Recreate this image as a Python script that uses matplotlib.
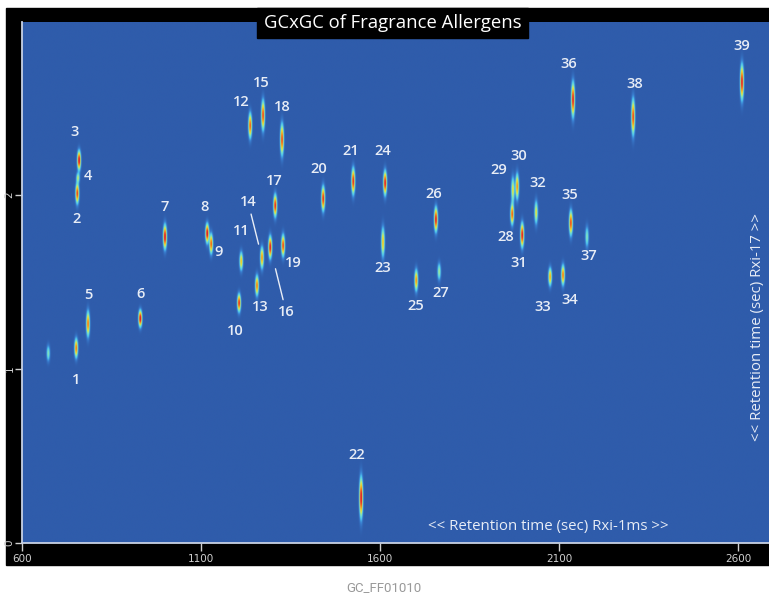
import matplotlib
matplotlib.use('Agg')
import matplotlib.pyplot as plt
import numpy as np
from matplotlib.colors import LinearSegmentedColormap
from matplotlib.patches import Rectangle

# peaks: first dimension (Rxi-1ms, sec), second dimension (Rxi-17, sec)
labels = [str(i) for i in range(1, 40)] + ['']
rt1 = [751, 754, 759, 756, 784, 930, 999, 1117, 1128, 1206,
       1212, 1237, 1256, 1270, 1273, 1293, 1307, 1326, 1329, 1441,
       1525, 1547, 1608, 1614, 1701, 1756, 1765, 1969, 1971, 1983,
       1997, 2036, 2075, 2111, 2133, 2139, 2178, 2307, 2611, 673]
rt2 = [1.12, 2.01, 2.20, 2.10, 1.26, 1.29, 1.76, 1.78, 1.72, 1.38,
       1.62, 2.40, 1.48, 1.64, 2.46, 1.70, 1.94, 2.32, 1.71, 1.98,
       2.08, 0.26, 1.73, 2.07, 1.51, 1.86, 1.56, 1.89, 2.03, 2.05,
       1.77, 1.90, 1.53, 1.54, 1.84, 2.55, 1.76, 2.45, 2.65, 1.09]
height = [0.75, 0.85, 1.0, 0.4, 0.75, 1.0, 1.0, 1.0, 0.8, 0.9,
          0.6, 0.8, 0.75, 0.7, 0.85, 0.95, 0.9, 0.85, 0.85, 0.9,
          0.9, 1.0, 0.6, 0.95, 0.7, 0.95, 0.4, 0.8, 0.5, 0.7,
          0.95, 0.5, 0.65, 0.75, 0.85, 0.95, 0.35, 0.85, 0.95, 0.35]
spread = [0.066, 0.072, 0.069, 0.029, 0.086, 0.060, 0.086, 0.069, 0.069, 0.063,
          0.060, 0.086, 0.069, 0.072, 0.103, 0.078, 0.078, 0.109, 0.075, 0.086,
          0.092, 0.144, 0.095, 0.086, 0.072, 0.086, 0.049, 0.072, 0.080, 0.086,
          0.086, 0.072, 0.060, 0.069, 0.086, 0.121, 0.057, 0.124, 0.124, 0.043]

xticks = [600, 1100, 1600, 2100, 2600]
yticks = [0, 1, 2]

# where each number sits relative to its peak (pixels, y pointing down)
label_offsets = {
    '1': (0, 32), '2': (-1, 26), '3': (-4, -28), '4': (10, -2), '5': (0, -29),
    '6': (0, -25), '7': (0, -30), '8': (-3, -26), '9': (7, 8), '10': (-4, 28),
    '11': (0, -30), '12': (-9, -23), '13': (3, 22), '14': (-14, -56), '15': (-2, -32),
    '16': (16, 65), '17': (-1, -24), '18': (0, -32), '19': (10, 18), '20': (-4, -29),
    '21': (-2, -30), '22': (-4, -43), '23': (0, 26), '24': (-2, -32), '25': (-1, 26),
    '26': (-2, -25), '27': (2, 21), '28': (-6, 23), '29': (-14, -20), '30': (1, -30),
    '31': (-4, 28), '32': (2, -29), '33': (-7, 30), '34': (7, 25), '35': (-1, -28),
    '36': (-4, -35), '37': (2, 19), '38': (1, -33), '39': (0, -36),
}
leader = {'14': 10, '16': 16}  # labels with a pointer line, gap to the peak (pt)

bg_blue = '#2f5cab'
txt_col = '#e8edf6'
cmap = LinearSegmentedColormap.from_list('gc', [
    (0.0, bg_blue), (0.10, '#3a80d2'), (0.20, '#4fcaf2'), (0.34, '#86e6b8'),
    (0.46, '#e6e83c'), (0.60, '#f8b820'), (0.76, '#f0581e'), (0.9, '#dc1034'),
    (1.0, '#d01038')])

# build the contour-plot surface from the peaks
xs = np.arange(600, 2690, 1.0)
ys = np.arange(0, 3.0, 0.003)
Z = np.zeros((ys.size, xs.size))
sx = 3.0
for x0, y0, h, s in zip(rt1, rt2, height, spread):
    sy = s / np.sqrt(2 * np.log(h / 0.12))
    gy = np.exp(-0.5 * ((ys - y0) / sy) ** 2)
    gx = np.exp(-0.5 * ((xs - x0) / sx) ** 2)
    Z += h * np.outer(gy, gx)
Z = np.clip(Z, 0, 1)

W, H = 769, 602
fig = plt.figure(figsize=(W / 100, H / 100), dpi=100)
fig.patches.append(Rectangle((6 / W, 37 / H), 763 / W, 557 / H,
                             transform=fig.transFigure, color='black', zorder=-1))

ax = fig.add_axes([22 / W, 59 / H, 747 / W, 521 / H])
ax.imshow(Z, extent=[xs[0], xs[-1], ys[0], ys[-1]], origin='lower', aspect='auto',
          cmap=cmap, vmin=0, vmax=1, interpolation='bilinear')
ax.set_xlim(600, 2686)
ax.set_ylim(0, 2.994)

ax.set_xticks(xticks)
ax.set_yticks(yticks)
ax.tick_params(colors='#d0d0d0', labelsize=7.5, width=1, direction='out')
ax.tick_params(axis='x', length=6, pad=2)
ax.tick_params(axis='y', length=5, pad=0.5)
for t in ax.get_yticklabels():
    t.set_rotation(90)
    t.set_va('center')
for side in ['top', 'right']:
    ax.spines[side].set_visible(False)
for side in ['left', 'bottom']:
    ax.spines[side].set_color('#c8d2e4')
    ax.spines[side].set_linewidth(1.3)

for lab, x0, y0 in zip(labels, rt1, rt2):
    if not lab:
        continue
    dx, dy = label_offsets[lab]
    arrow = None
    if lab in leader:
        arrow = dict(arrowstyle='-', color=txt_col, lw=1, shrinkA=2, shrinkB=leader[lab])
    ax.annotate(lab, (x0, y0), xytext=(dx, -dy), textcoords='offset pixels',
                ha='center', va='center', color=txt_col, fontsize=10.5,
                family='Open Sans', weight='semibold', arrowprops=arrow)

ax.text(0.704, 0.031, '<< Retention time (sec) Rxi-1ms >>', transform=ax.transAxes,
        ha='center', va='center', color=txt_col, fontsize=10.8, family='Open Sans')
ax.text(0.985, 0.415, '<< Retention time (sec) Rxi-17 >>', transform=ax.transAxes,
        ha='center', va='center', rotation=90, color=txt_col, fontsize=10.8,
        family='Open Sans')

# title box
fig.patches.append(Rectangle((257 / W, (H - 38) / H), 271 / W, 30 / H,
                             transform=fig.transFigure, color='black', zorder=5))
fig.text(392.5 / W, (H - 23) / H, 'GCxGC of Fragrance Allergens', ha='center',
         va='center', color='white', fontsize=13.3, family='Open Sans', zorder=6)

fig.text(384 / W, (H - 588) / H, 'GC_FF01010', ha='center', va='center',
         color='#999999', fontsize=9.5, family='Roboto')

fig.savefig('out.png', dpi=100)
